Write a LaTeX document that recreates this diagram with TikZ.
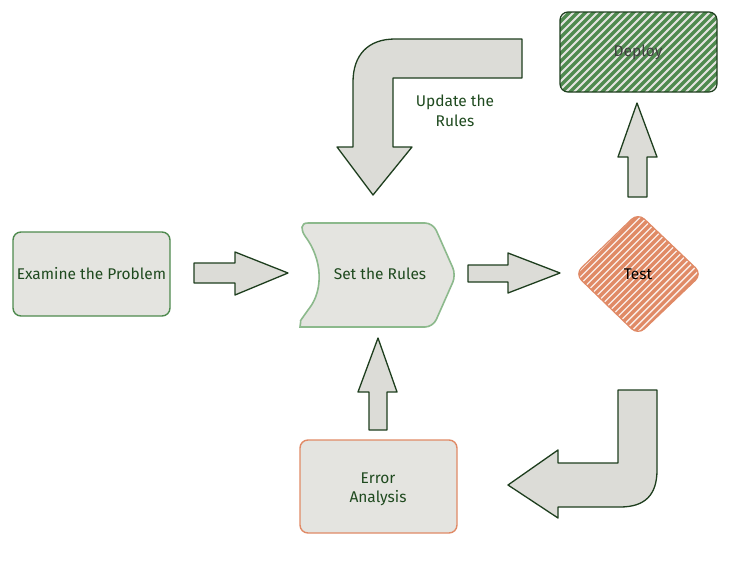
\documentclass[tikz,border=0pt]{standalone}
\usepackage{fontspec}
\setmainfont{Fira Sans}
\definecolor{grnA}{HTML}{4E8A4E}
\definecolor{grnB}{HTML}{8CB98C}
\definecolor{grnD}{HTML}{1E3E1E}
\definecolor{grnT}{HTML}{1F4A1F}
\definecolor{grnF}{HTML}{4F8A4F}
\definecolor{orgA}{HTML}{E08A66}
\definecolor{grayF}{HTML}{E4E4E0}
\definecolor{grayA}{HTML}{DCDCD7}
\tikzset{
  lbl/.style={font=\fontsize{15.5}{18}\selectfont, text=grnT, align=center, inner sep=0pt},
  boxshape/.style={line width=1.4pt, fill=grayF, rounded corners=8pt},
  blockarrow/.style={draw=grnD, line width=1.3pt, fill=grayA, line join=round},
  hatchline/.style={line width=3.2pt},
}
\begin{document}
\begin{tikzpicture}[x=1pt,y=-1pt]
\useasboundingbox (0,0) rectangle (744,562);
% Examine the Problem
\draw[boxshape, draw=grnA] (13,232) rectangle (170,316);
\node[lbl] (examine) at (91.5,274) {Examine the Problem};
% Set the Rules
\draw[boxshape, draw=grnB, line width=1.6pt] (308,223) -- (433,223) -- (456,275) -- (433,327) -- (308,327)
  .. controls (300,327) and (301,320) .. (305,314) [sharp corners] .. controls (323,290) and (323,260) .. (305,236)
  .. controls (301,230) and (300,223) .. (308,223) -- cycle;
\node[lbl] (setrules) at (380,274) {Set the Rules};
% Test
\fill[white!85!orgA, rounded corners=9pt] (638,213) -- (702,274) -- (638,335) -- (575,274) -- cycle;
\begin{scope}
  \clip[rounded corners=9pt] (638,213) -- (702,274) -- (638,335) -- (575,274) -- cycle;
  \foreach \a in {430,437,...,720} \draw[hatchline, orgA] (\a,340) -- (\a+140,200);
\end{scope}
\draw[draw=orgA, line width=1.2pt, rounded corners=9pt] (638,213) -- (702,274) -- (638,335) -- (575,274) -- cycle;
\node[lbl, text=black] (test) at (638,274) {Test};
% Deploy
\fill[grayF, rounded corners=8pt] (560,12) rectangle (717,92);
\begin{scope}
  \clip[rounded corners=8pt] (560,12) rectangle (717,92);
  \foreach \a in {450,458,...,730} \draw[hatchline, grnF] (\a,100) -- (\a+100,0);
\end{scope}
\draw[draw=grnD, line width=1.2pt, rounded corners=8pt] (560,12) rectangle (717,92);
\node[lbl, text=black!75] (deploy) at (638,52) {Deploy};
% Error Analysis
\draw[boxshape, draw=orgA] (300,440) rectangle (457,533);
\node[lbl] (error) at (378,489) {Error\\[1pt]Analysis};
% arrows
\draw[blockarrow] (194,263) -- (235,263) -- (235,252) -- (288,273) -- (235,295) -- (235,283) -- (194,283) -- cycle;
\draw[blockarrow] (468,265) -- (508,265) -- (508,253) -- (560,273) -- (508,293) -- (508,282) -- (468,282) -- cycle;
\draw[blockarrow] (628,197) -- (628,157) -- (618,157) -- (637,103) -- (657,157) -- (647,157) -- (647,197) -- cycle;
\draw[blockarrow] (369,430) -- (369,392) -- (358,392) -- (378,338) -- (397,392) -- (387,392) -- (387,430) -- cycle;
\draw[blockarrow] (522,39) -- (522,78) -- (393,78) -- (393,147) -- (412,147) -- (373,195) -- (337,147) -- (353,147) -- (353,82)
  .. controls (353,55) and (368,39) .. (395,39) -- cycle;
\draw[blockarrow] (618,390) -- (657,390) -- (657,470) .. controls (657,495) and (645,507) .. (620,507) -- (558,507)
  -- (558,518) -- (508,485) -- (558,450) -- (558,463) -- (618,463) -- cycle;
\node[lbl] (update) at (455,111) {Update the\\[2pt]Rules};
\end{tikzpicture}
\end{document}
